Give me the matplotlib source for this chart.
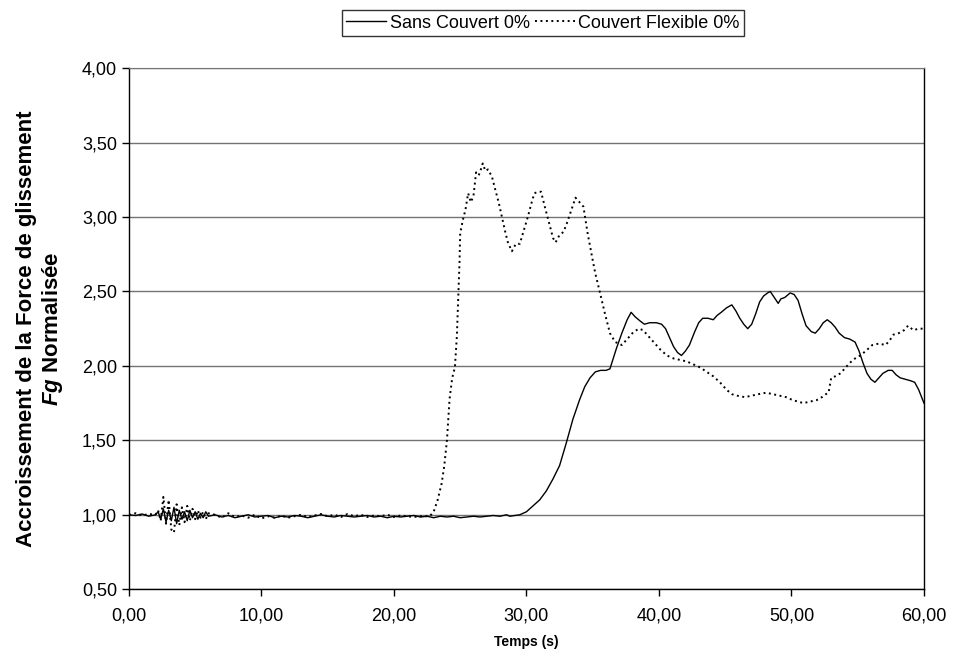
import numpy as np
import matplotlib
matplotlib.use("Agg")
import matplotlib.pyplot as plt
from matplotlib.ticker import FuncFormatter, MultipleLocator

plt.rcParams["font.family"] = ["Liberation Sans", "DejaVu Sans"]
plt.rcParams["mathtext.fontset"] = "custom"
plt.rcParams["mathtext.it"] = "Liberation Sans:italic:bold"
plt.rcParams["mathtext.rm"] = "Liberation Sans:bold"

# --- Sans Couvert 0% (solid) ---
sans_t_start = [0.0, 0.5, 1.0, 1.5, 2.0]
sans_y_start = [1.00, 0.995, 1.005, 0.99, 1.00]
sans_y_noise = [1.02, 0.97, 1.04, 0.95, 1.03, 0.96, 1.05, 0.94, 1.03, 0.97,
                1.02, 0.96, 1.03, 0.98, 1.02, 0.97, 1.01, 0.98, 1.02, 0.99]
sans_y_flat = [1.00, 0.985, 0.995, 0.98, 0.99, 1.00, 0.985, 0.99, 0.995, 0.98,
               0.99, 0.985, 0.995, 0.99, 0.98, 0.99, 1.00, 0.99, 0.985, 0.995,
               0.99, 0.985, 0.99, 0.995, 0.985, 0.99, 0.98, 0.99, 0.985, 0.99,
               0.995, 0.985, 0.99, 0.98, 0.99, 0.985, 0.99, 0.98, 0.985, 0.99,
               0.985, 0.99, 0.995, 0.99, 1.00]
sans_t_rise = [28.75, 29.5, 30.0, 30.5, 31.0, 31.5, 32.0, 32.5, 33.0, 33.5, 34.0, 34.4, 34.8,
               35.2, 35.6, 36.0, 36.3, 36.8, 37.2, 37.6, 37.9, 38.2, 38.6, 38.9, 39.3, 39.8,
               40.2, 40.5, 40.8, 41.1, 41.4, 41.7, 42.0, 42.3, 42.7, 43.0, 43.3, 43.7, 44.1,
               44.4, 44.7, 45.1, 45.5, 45.8, 46.1, 46.4, 46.7, 47.0, 47.3, 47.6, 47.9, 48.2,
               48.4, 48.7, 49.0, 49.2, 49.5, 49.9, 50.2, 50.5, 50.8, 51.1, 51.5, 51.8, 52.1,
               52.4, 52.7, 53.0, 53.3, 53.6, 54.0, 54.4, 54.8, 55.1, 55.4, 55.7, 56.0, 56.3,
               56.6, 56.9, 57.3, 57.6, 57.9, 58.2, 58.6, 59.0, 59.3, 59.6, 60.0]
sans_y_rise = [0.99, 1.00, 1.02, 1.06, 1.10, 1.16, 1.24, 1.33, 1.48, 1.64, 1.77, 1.86, 1.92,
               1.96, 1.97, 1.97, 1.98, 2.12, 2.22, 2.31, 2.36, 2.33, 2.30, 2.28, 2.29, 2.29,
               2.28, 2.25, 2.19, 2.13, 2.09, 2.07, 2.10, 2.14, 2.23, 2.29, 2.32, 2.32, 2.31,
               2.34, 2.36, 2.39, 2.41, 2.37, 2.32, 2.28, 2.25, 2.28, 2.35, 2.43, 2.47, 2.49,
               2.50, 2.46, 2.42, 2.45, 2.46, 2.49, 2.48, 2.44, 2.35, 2.27, 2.23, 2.22, 2.25,
               2.29, 2.31, 2.29, 2.26, 2.22, 2.19, 2.18, 2.16, 2.10, 2.02, 1.95, 1.91, 1.89,
               1.92, 1.95, 1.97, 1.97, 1.94, 1.92, 1.91, 1.90, 1.89, 1.84, 1.75]

# --- Couvert Flexible 0% (dotted) ---
flex_t_start = [0.0, 0.5, 1.0, 1.5, 2.0]
flex_y_start = [1.00, 1.01, 0.995, 1.005, 1.00]
flex_y_noise = [1.03, 0.96, 1.12, 0.94, 1.10, 0.90, 0.88, 1.07, 0.93, 1.05,
                0.95, 1.06, 0.96, 1.04, 0.97, 1.03, 0.98, 1.02, 0.97, 1.01]
flex_y_flat = [1.00, 0.98, 1.01, 0.985, 0.995, 0.98, 1.00, 0.975, 0.99, 0.98,
               0.995, 0.98, 0.99, 1.00, 0.985, 0.995, 1.005, 0.99, 1.00, 0.985,
               1.005, 0.99, 1.00, 0.985, 0.995, 0.99, 1.00, 0.985, 0.995, 0.99,
               0.985, 0.99, 0.99]
flex_t_rise = [22.7, 23.0, 23.3, 23.6, 23.8, 24.0, 24.2, 24.4, 24.6, 24.75, 24.85, 24.95, 25.0,
               25.2, 25.4, 25.6, 25.8, 26.0, 26.2, 26.4, 26.6, 26.7, 26.9, 27.1, 27.4, 27.6,
               27.9, 28.1, 28.4, 28.6, 28.9, 29.2, 29.5, 29.8, 30.1, 30.4, 30.6, 30.9, 31.1,
               31.3, 31.5, 31.8, 32.0, 32.2, 32.5, 32.8, 33.1, 33.4, 33.7, 34.0, 34.3, 34.6,
               35.0, 35.2, 35.5, 35.9, 36.3, 36.7, 37.0, 37.2, 37.6, 38.1, 38.5, 38.8, 39.1,
               39.3, 39.7, 40.1, 40.6, 41.1, 41.6, 42.1, 42.6, 43.1, 43.6, 44.1, 44.6, 45.1,
               45.5, 45.9, 46.5, 47.0, 47.5, 48.1, 48.6, 49.1, 49.6, 50.1, 50.5, 50.9, 51.4,
               51.9, 52.3, 52.6, 52.8, 53.0, 53.3, 53.7, 54.0, 54.4, 54.8, 55.2, 55.6, 56.1,
               56.6, 57.1, 57.4, 57.7, 58.1, 58.5, 58.8, 59.2, 59.6, 60.0]
flex_y_rise = [0.99, 1.02, 1.10, 1.21, 1.33, 1.50, 1.78, 1.92, 1.99, 2.20, 2.44, 2.70, 2.89,
               2.98, 3.05, 3.16, 3.10, 3.14, 3.30, 3.28, 3.33, 3.36, 3.31, 3.32, 3.27, 3.20,
               3.10, 3.02, 2.90, 2.83, 2.77, 2.82, 2.82, 2.91, 3.00, 3.10, 3.16, 3.17, 3.17,
               3.10, 3.03, 2.93, 2.86, 2.83, 2.88, 2.90, 2.97, 3.05, 3.13, 3.10, 3.07, 2.90,
               2.71, 2.62, 2.51, 2.36, 2.22, 2.16, 2.15, 2.14, 2.18, 2.23, 2.25, 2.24, 2.21,
               2.19, 2.15, 2.11, 2.07, 2.05, 2.04, 2.03, 2.01, 1.99, 1.96, 1.93, 1.89, 1.84,
               1.81, 1.80, 1.79, 1.80, 1.81, 1.82, 1.81, 1.80, 1.79, 1.77, 1.76, 1.75, 1.76,
               1.77, 1.79, 1.81, 1.82, 1.92, 1.93, 1.95, 1.98, 2.02, 2.05, 2.07, 2.10, 2.14,
               2.15, 2.14, 2.17, 2.21, 2.22, 2.24, 2.27, 2.24, 2.25, 2.25]

# sample times of the noisy / flat stretches
noise_t = np.arange(2.2, 6.01, 0.2)
sans_t_flat = np.arange(6.5, 28.51, 0.5)
flex_t_flat = np.arange(6.5, 22.51, 0.5)

sans_t = np.concatenate([sans_t_start, noise_t, sans_t_flat, sans_t_rise])
sans_y = np.concatenate([sans_y_start, sans_y_noise, sans_y_flat, sans_y_rise])
flex_t = np.concatenate([flex_t_start, noise_t, flex_t_flat, flex_t_rise])
flex_y = np.concatenate([flex_y_start, flex_y_noise, flex_y_flat, flex_y_rise])

fig = plt.figure(figsize=(9.55, 6.62), dpi=100)
ax = fig.add_axes([0.135, 0.110, 0.8325, 0.787])

ax.plot(sans_t, sans_y, color="black", lw=1.0, label="Sans Couvert 0%")
ax.plot(flex_t, flex_y, color="black", lw=1.4, linestyle=(0, (1, 1.8)),
        label="Couvert Flexible 0%")

ax.set_xlim(0, 60)
ax.set_ylim(0.5, 4.0)
ax.xaxis.set_major_locator(MultipleLocator(10))
ax.yaxis.set_major_locator(MultipleLocator(0.5))
comma = FuncFormatter(lambda v, p: f"{v:.2f}".replace(".", ","))
ax.xaxis.set_major_formatter(comma)
ax.yaxis.set_major_formatter(comma)
ax.tick_params(direction="out", length=5, width=1, labelsize=13, color="black")
ax.tick_params(axis="x", pad=8)
ax.yaxis.grid(True, color="0.45", lw=1.0)
ax.set_axisbelow(True)
for side in ["left", "bottom", "right"]:
    ax.spines[side].set_color("black")
    ax.spines[side].set_linewidth(1.0)
ax.spines["top"].set_color("0.45")

ax.set_xlabel("Temps (s)", fontsize=10, fontweight="bold", labelpad=8)
ax.set_ylabel("Accroissement de la Force de glissement\n$\\mathit{Fg}$ Normalisée",
              fontsize=16, fontweight="bold", labelpad=12, linespacing=1.2)

leg = fig.legend(loc="center", bbox_to_anchor=(543 / 955, 1 - 23 / 662), ncol=2,
                 fontsize=13, frameon=True, fancybox=False, edgecolor="black",
                 handlelength=2.2, handletextpad=0.2, columnspacing=0.3,
                 borderpad=0.25, borderaxespad=0)
leg.get_frame().set_linewidth(1.0)

fig.savefig("out.png", dpi=100)
